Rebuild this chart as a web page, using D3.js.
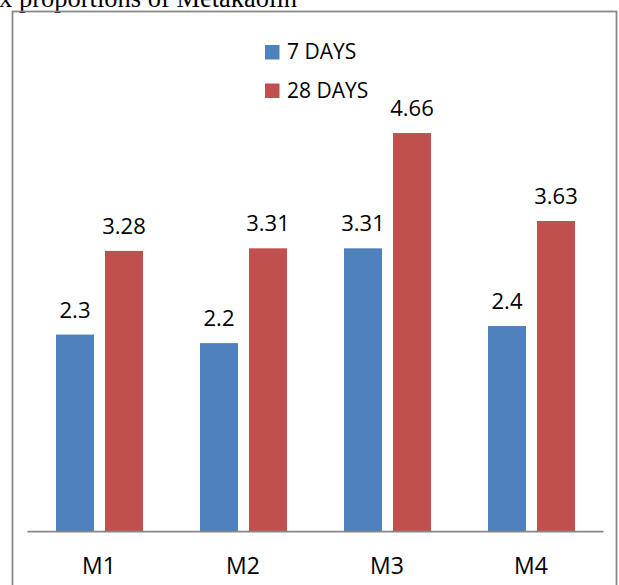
<!DOCTYPE html>
<html>
<head>
<meta charset="utf-8">
<script src="https://cdn.jsdelivr.net/npm/d3@7"></script>
<style>
html,body{margin:0;padding:0;background:#fff;}
svg{display:block;}
</style>
</head>
<body>
<script>
const categories = ["M1", "M2", "M3", "M4"];
const seriesNames = ["7 DAYS", "28 DAYS"];
const days7 = [2.3, 2.2, 3.31, 2.4];
const days28 = [3.28, 3.31, 4.66, 3.63];
const labels7 = ["2.3", "2.2", "3.31", "2.4"];
const labels28 = ["3.28", "3.31", "4.66", "3.63"];
const colors = ["#4F81BD", "#C0504D"];

const W = 619, H = 585;
const svg = d3.select("body").append("svg").attr("width", W).attr("height", H);

// document caption (cut off at top, as in the source page)
svg.append("text").attr("x", -1).attr("y", 7)
  .attr("font-family", "Liberation Serif, Times New Roman, serif")
  .attr("font-size", 26.5).attr("fill", "#000")
  .text("x proportions of Metakaolin");

// chart border
svg.append("rect").attr("x", 12.5).attr("y", 11.5).attr("width", 604).attr("height", 600)
  .attr("fill", "none").attr("stroke", "#868686").attr("stroke-width", 1.75);

const x0 = d3.scaleBand().domain(categories).range([27, 603]);
const x1 = d3.scaleBand().domain(seriesNames).range([-43, 44]).paddingInner(0.2245);
const y = d3.scaleLinear().domain([0, 5]).range([531, 104]);

const data = categories.map((c, i) => ({cat: c, vals: [
  {s: seriesNames[0], v: days7[i], l: labels7[i], c: colors[0]},
  {s: seriesNames[1], v: days28[i], l: labels28[i], c: colors[1]}
]}));

const g = svg.append("g");
const groups = g.selectAll("g.cat").data(data).enter().append("g")
  .attr("transform", d => `translate(${x0(d.cat) + x0.bandwidth()/2},0)`);

groups.selectAll("rect").data(d => d.vals).enter().append("rect")
  .attr("x", d => x1(d.s))
  .attr("width", x1.bandwidth())
  .attr("y", d => y(d.v))
  .attr("height", d => y(0) - y(d.v))
  .attr("fill", d => d.c);

groups.selectAll("text").data(d => d.vals).enter().append("text")
  .attr("x", d => x1(d.s) + x1.bandwidth()/2)
  .attr("y", d => y(d.v) - 17)
  .attr("text-anchor", "middle")
  .attr("font-family", "Open Sans, sans-serif")
  .attr("font-size", 22).attr("fill", "#000")
  .text(d => d.l);

// x axis
const xAxis = d3.axisBottom(x0).tickSize(0).tickPadding(27);
const ax = svg.append("g").attr("transform", `translate(0,${y(0)})`).call(xAxis);
ax.select(".domain").attr("stroke", "#868686").attr("stroke-width", 1.75);
ax.selectAll("text").attr("font-family", "Open Sans, sans-serif").attr("font-size", 23).attr("fill", "#000");

// legend
const leg = svg.append("g");
seriesNames.forEach((s, i) => {
  leg.append("rect").attr("x", 265).attr("y", 45 + i*38.5).attr("width", 14.5).attr("height", 14.5).attr("fill", colors[i]);
  leg.append("text").attr("x", 287).attr("y", 59 + i*38.5)
    .attr("font-family", "Open Sans, sans-serif").attr("font-size", 21).attr("fill", "#000")
    .text(s);
});
</script>
</body>
</html>
